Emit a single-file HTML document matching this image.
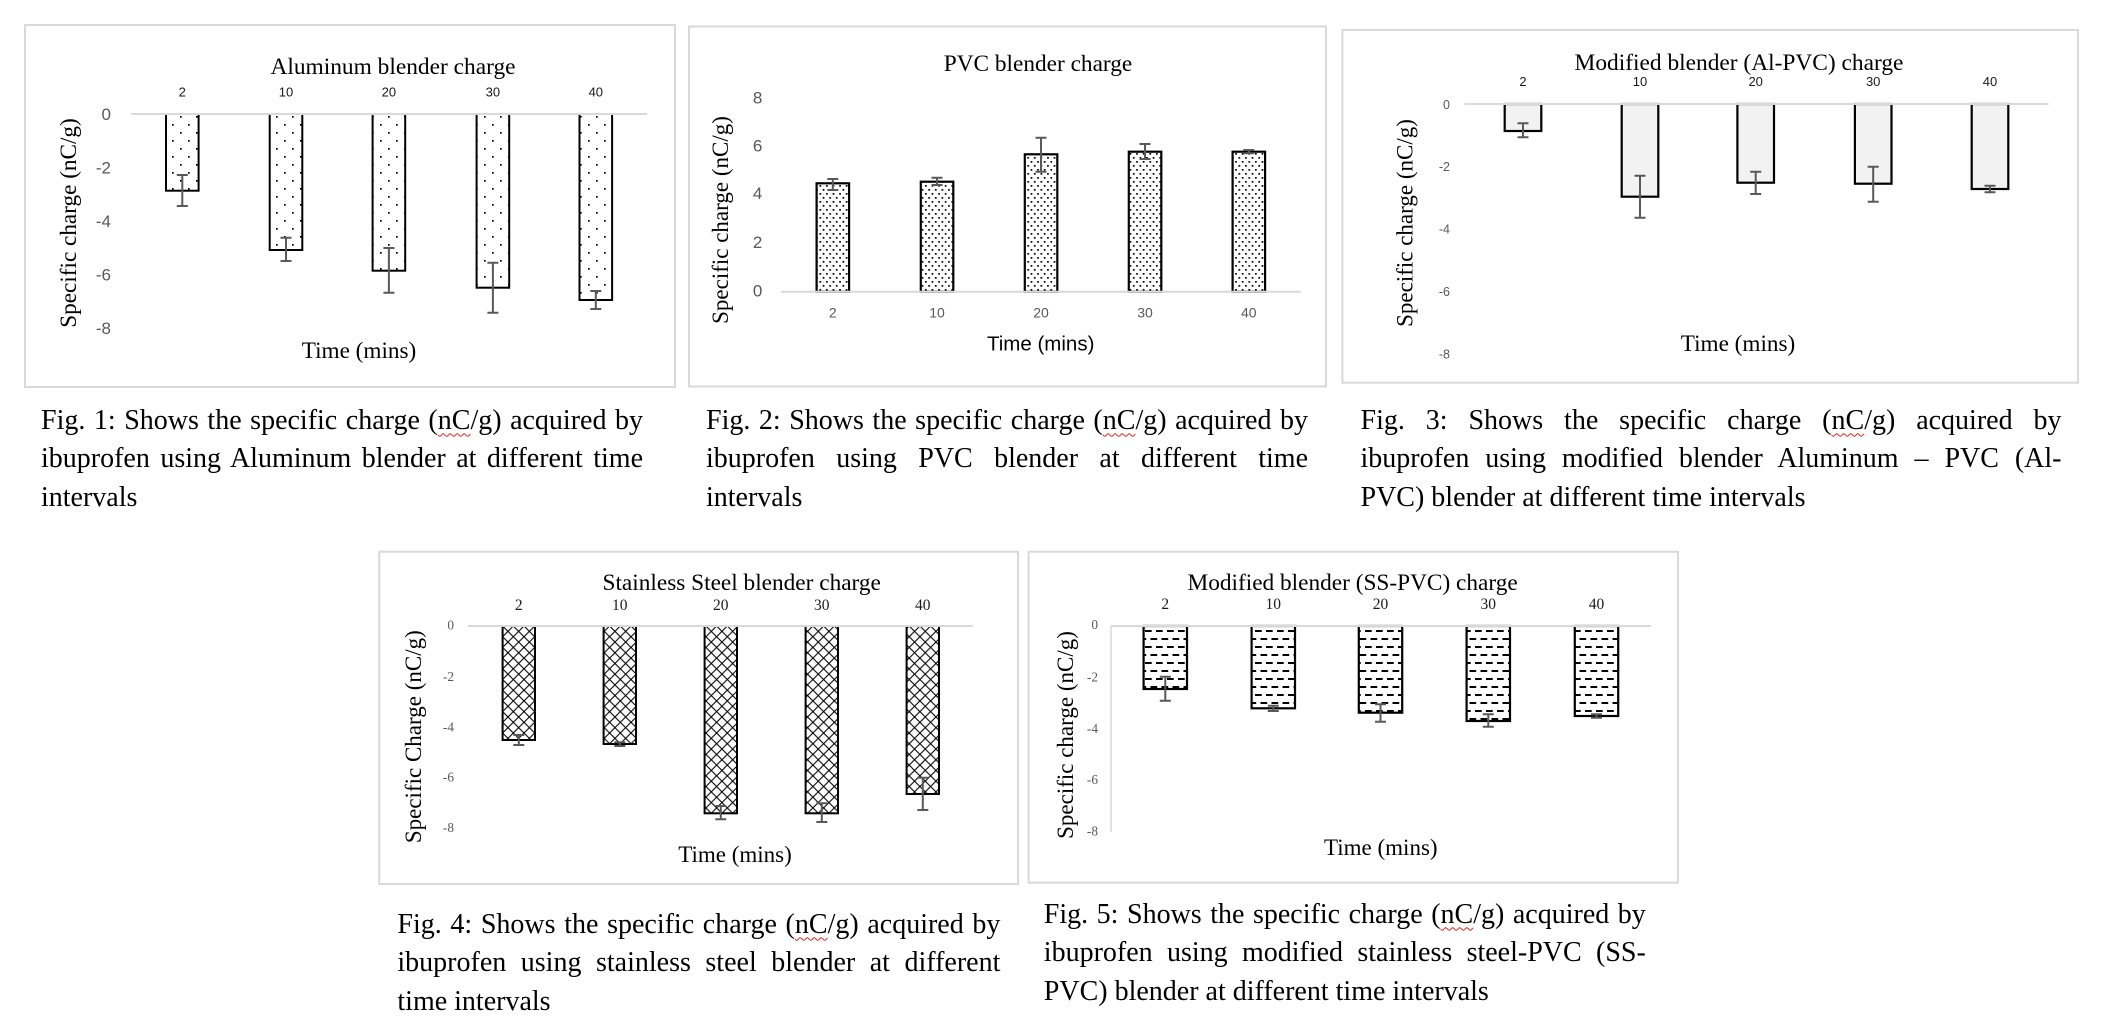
<!DOCTYPE html>
<html><head><meta charset="utf-8">
<style>
html,body{margin:0;padding:0;background:#fff;}
body{width:2106px;height:1030px;position:relative;overflow:hidden;}
svg{position:absolute;left:0;top:0;}
.cap{position:absolute;font-family:"Liberation Serif","Times New Roman",serif;font-size:28px;line-height:38.5px;color:#000;}
.cap div{white-space:normal;}
.j{text-align:justify;text-align-last:justify;}
.w{text-decoration:underline wavy #e02020;text-decoration-thickness:1px;text-underline-offset:4px;}
.se{font-family:"Liberation Serif","Times New Roman",serif;}
.sa{font-family:"Liberation Sans",Arial,sans-serif;}
</style></head><body>
<svg width="2106" height="1030" viewBox="0 0 2106 1030" xmlns="http://www.w3.org/2000/svg">
<defs>
<pattern id="p1" patternUnits="userSpaceOnUse" width="16" height="16" x="0" y="0">
<rect width="16" height="16" fill="#fff"/>
<rect x="4" y="4" width="1.7" height="1.7" fill="#000"/>
<rect x="12" y="12" width="1.7" height="1.7" fill="#000"/>
</pattern>
<pattern id="p2" patternUnits="userSpaceOnUse" width="6.6" height="8" x="0" y="0">
<rect width="6.6" height="8" fill="#fff"/>
<rect x="1" y="1" width="1.7" height="1.7" fill="#000"/>
<rect x="4.3" y="5" width="1.7" height="1.7" fill="#000"/>
</pattern>
<pattern id="p4" patternUnits="userSpaceOnUse" width="10.7" height="10.7" x="502.6" y="626">
<rect width="10.7" height="10.7" fill="#fff"/>
<path d="M0 0 L10.7 10.7 M10.7 0 L0 10.7" stroke="#000" stroke-width="1.1"/>
</pattern>
<pattern id="p5" patternUnits="userSpaceOnUse" width="11" height="16" x="0" y="628">
<rect width="11" height="16" fill="#fff"/>
<rect x="1" y="2" width="6.7" height="2" fill="#000"/>
<rect x="6.5" y="10" width="6.7" height="2" fill="#000"/>
<rect x="-4.5" y="10" width="6.7" height="2" fill="#000"/>
</pattern>
</defs>

<!-- ============ Chart 1 ============ -->
<rect x="25" y="25" width="650" height="362" fill="#fff" stroke="#d9d9d9" stroke-width="2"/>
<text class="se" x="393" y="74" font-size="23.4" text-anchor="middle">Aluminum blender charge</text>
<g class="sa" font-size="13" text-anchor="middle" fill="#1a1a1a">
<text x="182.3" y="96.7">2</text><text x="286" y="96.7">10</text><text x="388.9" y="96.7">20</text><text x="492.9" y="96.7">30</text><text x="595.8" y="96.7">40</text>
</g>
<g class="sa" font-size="17" text-anchor="end" fill="#595959">
<text x="111" y="120">0</text><text x="111" y="173.5">-2</text><text x="111" y="227">-4</text><text x="111" y="280.5">-6</text><text x="111" y="334">-8</text>
</g>
<g fill="url(#p1)" stroke="#000" stroke-width="2">
<rect x="166" y="114" width="32.6" height="76.7"/>
<rect x="269.7" y="114" width="32.6" height="136"/>
<rect x="372.6" y="114" width="32.6" height="156.7"/>
<rect x="476.6" y="114" width="32.6" height="173.7"/>
<rect x="579.5" y="114" width="32.6" height="186"/>
</g>
<line x1="131" y1="114" x2="647" y2="114" stroke="#d9d9d9" stroke-width="2"/>
<g stroke="#595959" stroke-width="2" fill="none">
<path d="M182.3 175V206M176.8 175H187.8M176.8 206H187.8"/>
<path d="M286 237.7V261M280.5 237.7H291.5M280.5 261H291.5"/>
<path d="M388.9 248V292.7M383.4 248H394.4M383.4 292.7H394.4"/>
<path d="M492.9 262.7V312.7M487.4 262.7H498.4M487.4 312.7H498.4"/>
<path d="M595.8 291V309M590.3 291H601.3M590.3 309H601.3"/>
</g>
<text class="se" font-size="23.2" text-anchor="middle" transform="translate(76,223) rotate(-90)">Specific charge (nC/g)</text>
<text class="se" x="359" y="358" font-size="23.2" text-anchor="middle">Time (mins)</text>

<!-- ============ Chart 2 ============ -->
<rect x="689" y="26.5" width="637" height="360" fill="#fff" stroke="#d9d9d9" stroke-width="2"/>
<text class="se" x="1038" y="71" font-size="23.3" text-anchor="middle">PVC blender charge</text>
<g class="sa" font-size="17" text-anchor="end" fill="#595959">
<text x="762.4" y="103.7">8</text><text x="762.4" y="151.7">6</text><text x="762.4" y="199">4</text><text x="762.4" y="248">2</text><text x="762.4" y="296.7">0</text>
</g>
<g fill="url(#p2)" stroke="#000" stroke-width="2.2">
<rect x="816.6" y="183.3" width="32.5" height="108.4"/>
<rect x="920.8" y="181.7" width="32.5" height="110"/>
<rect x="1024.8" y="154.3" width="32.5" height="137.4"/>
<rect x="1128.8" y="151.7" width="32.5" height="140"/>
<rect x="1232.6" y="151.7" width="32.5" height="140"/>
</g>
<line x1="781" y1="291.7" x2="1301" y2="291.7" stroke="#d9d9d9" stroke-width="2"/>
<g stroke="#595959" stroke-width="2" fill="none">
<path d="M832.8 179V190M827.3 179H838.3M827.3 190H838.3"/>
<path d="M937 177.7V185M931.5 177.7H942.5M931.5 185H942.5"/>
<path d="M1041 137.7V171.7M1035.5 137.7H1046.5M1035.5 171.7H1046.5"/>
<path d="M1145 144V159M1139.5 144H1150.5M1139.5 159H1150.5"/>
<path d="M1248.8 150V153.3M1243.3 150H1254.3M1243.3 153.3H1254.3"/>
</g>
<g class="sa" font-size="14" text-anchor="middle" fill="#595959">
<text x="832.8" y="317.7">2</text><text x="937" y="317.7">10</text><text x="1041" y="317.7">20</text><text x="1145" y="317.7">30</text><text x="1248.8" y="317.7">40</text>
</g>
<text class="se" font-size="23" text-anchor="middle" transform="translate(728,220) rotate(-90)">Specific charge (nC/g)</text>
<text class="sa" x="1040.7" y="350.7" font-size="20.5" text-anchor="middle">Time (mins)</text>

<!-- ============ Chart 3 ============ -->
<rect x="1342.4" y="30" width="735.6" height="352.7" fill="#fff" stroke="#d9d9d9" stroke-width="2"/>
<text class="se" x="1739" y="70" font-size="23.4" text-anchor="middle">Modified blender (Al-PVC) charge</text>
<g class="sa" font-size="13" text-anchor="middle" fill="#1a1a1a">
<text x="1523" y="86.2">2</text><text x="1640" y="86.2">10</text><text x="1755.7" y="86.2">20</text><text x="1873.2" y="86.2">30</text><text x="1990" y="86.2">40</text>
</g>
<g class="sa" font-size="12.5" text-anchor="end" fill="#595959">
<text x="1450" y="108.8">0</text><text x="1450" y="171.2">-2</text><text x="1450" y="233.6">-4</text><text x="1450" y="296">-6</text><text x="1450" y="358.4">-8</text>
</g>
<g fill="#f2f2f2" stroke="#000" stroke-width="2.2">
<rect x="1504.7" y="104" width="36.6" height="27"/>
<rect x="1621.7" y="104" width="36.6" height="92.7"/>
<rect x="1737.4" y="104" width="36.6" height="78.7"/>
<rect x="1854.9" y="104" width="36.6" height="79.7"/>
<rect x="1971.7" y="104" width="36.6" height="85"/>
</g>
<line x1="1464.6" y1="104" x2="2048.6" y2="104" stroke="#d9d9d9" stroke-width="2"/>
<g stroke="#595959" stroke-width="2" fill="none">
<path d="M1523 123.3V137.3M1517.5 123.3H1528.5M1517.5 137.3H1528.5"/>
<path d="M1640 175.7V217.7M1634.5 175.7H1645.5M1634.5 217.7H1645.5"/>
<path d="M1755.7 171.7V194M1750.2 171.7H1761.2M1750.2 194H1761.2"/>
<path d="M1873.2 166.7V201.7M1867.7 166.7H1878.7M1867.7 201.7H1878.7"/>
<path d="M1990 185.7V192.3M1984.5 185.7H1995.5M1984.5 192.3H1995.5"/>
</g>
<text class="se" font-size="23" text-anchor="middle" transform="translate(1412.5,223) rotate(-90)">Specific charge (nC/g)</text>
<text class="se" x="1738" y="351" font-size="23.2" text-anchor="middle">Time (mins)</text>

<!-- ============ Chart 4 ============ -->
<rect x="379.3" y="551.7" width="638.7" height="332.3" fill="#fff" stroke="#d9d9d9" stroke-width="2"/>
<text class="se" x="741.7" y="590" font-size="23.3" text-anchor="middle">Stainless Steel blender charge</text>
<g class="se" font-size="15.5" text-anchor="middle" fill="#1a1a1a">
<text x="518.8" y="610">2</text><text x="619.8" y="610">10</text><text x="720.8" y="610">20</text><text x="821.8" y="610">30</text><text x="922.8" y="610">40</text>
</g>
<g class="se" font-size="13.3" text-anchor="end" fill="#595959">
<text x="454" y="629.5">0</text><text x="454" y="680.9">-2</text><text x="454" y="731.3">-4</text><text x="454" y="781.7">-6</text><text x="454" y="832.1">-8</text>
</g>
<g fill="url(#p4)" stroke="#000" stroke-width="2">
<rect x="502.6" y="626" width="32.4" height="114"/>
<rect x="603.6" y="626" width="32.4" height="118"/>
<rect x="704.6" y="626" width="32.4" height="187.3"/>
<rect x="805.6" y="626" width="32.4" height="187.3"/>
<rect x="906.6" y="626" width="32.4" height="168"/>
</g>
<line x1="468" y1="626" x2="972.7" y2="626" stroke="#d9d9d9" stroke-width="2"/>
<g stroke="#595959" stroke-width="2" fill="none">
<path d="M518.8 735V745M513.3 735H524.3M513.3 745H524.3"/>
<path d="M619.8 742.3V746M614.3 742.3H625.3M614.3 746H625.3"/>
<path d="M720.8 806V819.3M715.3 806H726.3M715.3 819.3H726.3"/>
<path d="M821.8 803.3V822M816.3 803.3H827.3M816.3 822H827.3"/>
<path d="M922.8 777.7V810M917.3 777.7H928.3M917.3 810H928.3"/>
</g>
<text class="se" font-size="23" text-anchor="middle" transform="translate(421,736.7) rotate(-90)">Specific Charge (nC/g)</text>
<text class="se" x="735" y="862" font-size="23" text-anchor="middle">Time (mins)</text>

<!-- ============ Chart 5 ============ -->
<rect x="1028.6" y="551.7" width="649.4" height="331" fill="#fff" stroke="#d9d9d9" stroke-width="2"/>
<text class="se" x="1352.6" y="590" font-size="23.3" text-anchor="middle">Modified blender (SS-PVC) charge</text>
<g class="se" font-size="15.5" text-anchor="middle" fill="#1a1a1a">
<text x="1165.3" y="609">2</text><text x="1273.3" y="609">10</text><text x="1380.5" y="609">20</text><text x="1488.3" y="609">30</text><text x="1596.5" y="609">40</text>
</g>
<g class="se" font-size="13.3" text-anchor="end" fill="#595959">
<text x="1098" y="629">0</text><text x="1098" y="681.7">-2</text><text x="1098" y="732.9">-4</text><text x="1098" y="784.1">-6</text><text x="1098" y="835.3">-8</text>
</g>
<line x1="1111" y1="626" x2="1111" y2="832" stroke="#d9d9d9" stroke-width="1.5"/>
<g fill="url(#p5)" stroke="#000" stroke-width="2.2">
<rect x="1143.6" y="626" width="43.4" height="63"/>
<rect x="1251.6" y="626" width="43.4" height="82.3"/>
<rect x="1358.8" y="626" width="43.4" height="86.7"/>
<rect x="1466.6" y="626" width="43.4" height="95"/>
<rect x="1574.8" y="626" width="43.4" height="90"/>
</g>
<line x1="1111" y1="626" x2="1651" y2="626" stroke="#d9d9d9" stroke-width="2"/>
<g stroke="#595959" stroke-width="2" fill="none">
<path d="M1165.3 676.7V700.7M1159.8 676.7H1170.8M1159.8 700.7H1170.8"/>
<path d="M1273.3 705.7V711M1267.8 705.7H1278.8M1267.8 711H1278.8"/>
<path d="M1380.5 704.3V721.7M1375 704.3H1386M1375 721.7H1386"/>
<path d="M1488.3 714.3V726.7M1482.8 714.3H1493.8M1482.8 726.7H1493.8"/>
<path d="M1596.5 714.3V717.7M1591 714.3H1602M1591 717.7H1602"/>
</g>
<text class="se" font-size="23" text-anchor="middle" transform="translate(1073,735) rotate(-90)">Specific charge (nC/g)</text>
<text class="se" x="1380.8" y="855" font-size="23" text-anchor="middle">Time (mins)</text>
</svg>

<!-- ============ Captions ============ -->
<div class="cap" style="left:41px;top:401.5px;width:602px;">
<div class="j">Fig. 1: Shows the specific charge (<span class="w">nC</span>/g) acquired by</div>
<div class="j">ibuprofen using Aluminum blender at different time</div>
<div>intervals</div>
</div>
<div class="cap" style="left:706px;top:401.5px;width:602px;">
<div class="j">Fig. 2: Shows the specific charge (<span class="w">nC</span>/g) acquired by</div>
<div class="j">ibuprofen using PVC blender at different time</div>
<div>intervals</div>
</div>
<div class="cap" style="left:1360.5px;top:401.5px;width:701px;">
<div class="j">Fig. 3: Shows the specific charge (<span class="w">nC</span>/g) acquired by</div>
<div class="j">ibuprofen using modified blender Aluminum – PVC (Al-</div>
<div>PVC) blender at different time intervals</div>
</div>
<div class="cap" style="left:397.4px;top:905.5px;width:603px;">
<div class="j">Fig. 4: Shows the specific charge (<span class="w">nC</span>/g) acquired by</div>
<div class="j">ibuprofen using stainless steel blender at different</div>
<div>time intervals</div>
</div>
<div class="cap" style="left:1043.8px;top:895.5px;width:602px;">
<div class="j">Fig. 5: Shows the specific charge (<span class="w">nC</span>/g) acquired by</div>
<div class="j">ibuprofen using modified stainless steel-PVC (SS-</div>
<div>PVC) blender at different time intervals</div>
</div>
</body></html>
